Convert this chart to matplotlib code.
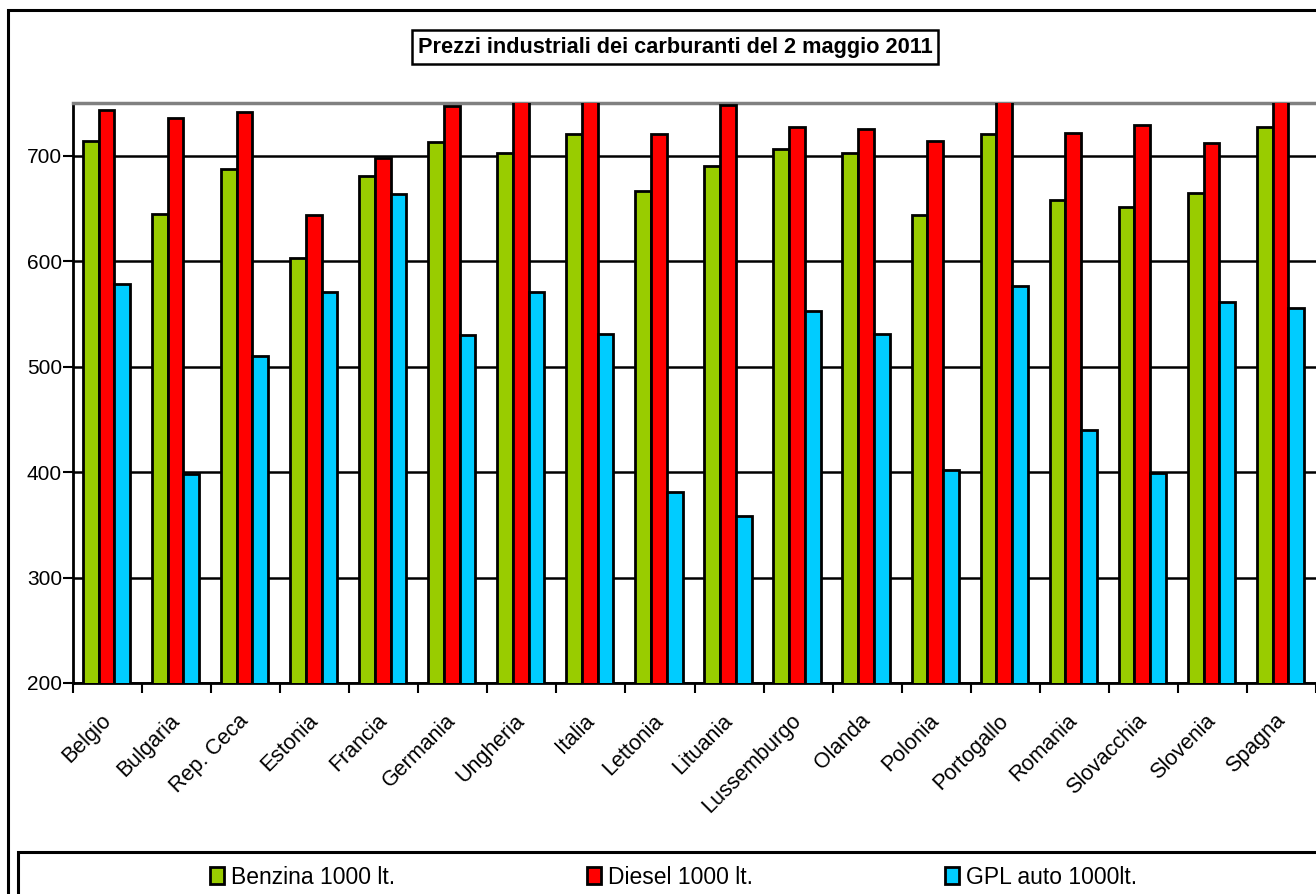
import matplotlib
matplotlib.use("Agg")
import matplotlib.pyplot as plt
from matplotlib.patches import Rectangle
import numpy as np

plt.rcParams['font.family'] = ['Liberation Sans', 'DejaVu Sans']

paesi = ["Belgio", "Bulgaria", "Rep. Ceca", "Estonia", "Francia", "Germania",
         "Ungheria", "Italia", "Lettonia", "Lituania", "Lussemburgo", "Olanda",
         "Polonia", "Portogallo", "Romania", "Slovacchia", "Slovenia", "Spagna"]

benzina = [714, 645, 687, 603, 681, 713, 703, 721, 667, 690, 706, 703,
           644, 721, 658, 651, 665, 727]
diesel = [743, 736, 741, 644, 698, 747, 760, 768, 721, 748, 727, 725,
          714, 762, 722, 729, 712, 754]
gpl = [578, 398, 510, 571, 664, 530, 571, 531, 381, 358, 553, 531,
       402, 576, 440, 399, 561, 556]

serie = ["Benzina 1000 lt.", "Diesel 1000 lt.", "GPL auto 1000lt."]
colori = ["#99CC00", "#FF0000", "#00CCFF"]
y_ticks = [200, 300, 400, 500, 600, 700]

W, H = 1316, 894
fig = plt.figure(figsize=(W / 100, H / 100), dpi=100)
fig.patch.set_facecolor("white")

# outer chart border (cut at right and bottom like the original)
fig.patches.append(Rectangle((8 / W, -0.1), 2, (H - 10) / H + 0.1,
                             transform=fig.transFigure, fill=False,
                             edgecolor="black", linewidth=2.2))
# legend border
fig.patches.append(Rectangle((18 / W, -0.1), 2, (H - 852) / H + 0.1,
                             transform=fig.transFigure, fill=False,
                             edgecolor="black", linewidth=2.2))

ax = fig.add_axes([73 / W, 1 - 683 / H, 1 - 73 / W, (683 - 103) / H])

x = np.arange(len(paesi))
w = 0.228
bars = []
for k, (vals, col) in enumerate(zip([benzina, diesel, gpl], colori)):
    b = ax.bar(x + (k - 1) * w - 0.015, vals, width=w, color=col,
               edgecolor="black", linewidth=2, label=serie[k], zorder=3)
    bars.append(b)

ax.set_xlim(-0.5, len(paesi) - 0.5)
ax.set_ylim(200, 750)
ax.set_yticks(y_ticks)
ax.yaxis.grid(True, color="black", linewidth=1.8, zorder=0)
ax.set_axisbelow(True)

ax.set_xticks(x)
ax.set_xticklabels(paesi, rotation=45, ha="right", va="center",
                   rotation_mode="anchor", fontsize=15.5)
ax.set_xticks(np.arange(len(paesi) + 1) - 0.5, minor=True)
ax.tick_params(axis="x", which="major", length=0, pad=25)
ax.tick_params(axis="x", which="minor", length=7, width=1.5, direction="out")
ax.tick_params(axis="y", length=7, width=1.5, direction="out", labelsize=15, pad=1)

for s in ["left", "bottom"]:
    ax.spines[s].set_color("black")
    ax.spines[s].set_linewidth(2)
ax.spines["top"].set_color("#808080")
ax.spines["top"].set_linewidth(2.5)
ax.spines["right"].set_visible(False)

fig.text(675 / W, 1 - 47 / H, "Prezzi industriali dei carburanti del 2 maggio 2011",
         ha="center", va="center", fontsize=15.7, fontweight="bold",
         bbox=dict(boxstyle="square,pad=0.28", facecolor="white",
                   edgecolor="black", linewidth=1.8))

fig.legend(handles=bars, labels=serie, loc="center left",
           bbox_to_anchor=(210 / W, 1 - 877 / H), ncol=3, frameon=False,
           fontsize=16.5, handlelength=0.6, handleheight=0.7,
           handletextpad=0.3, columnspacing=8.4, borderpad=0, borderaxespad=0)

fig.savefig("out.png", dpi=100)
